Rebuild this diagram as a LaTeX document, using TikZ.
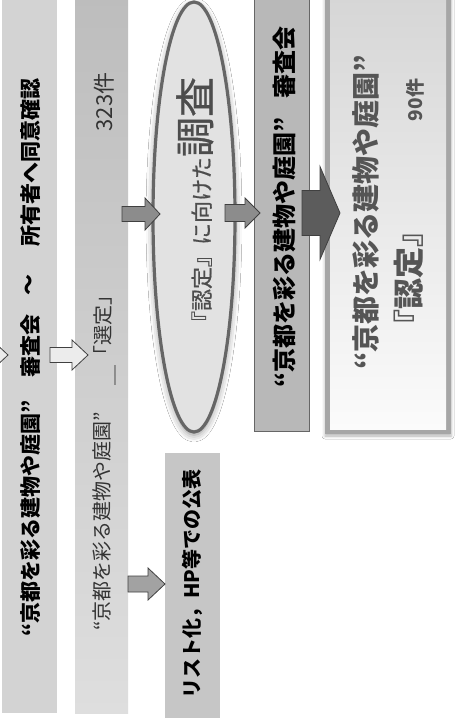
\documentclass[tikz,border=0pt]{standalone}
\usepackage{fontspec}
\setmainfont{Noto Sans CJK JP}
\newfontfamily\semifont[FakeBold=0.8]{Noto Sans CJK JP}
\usetikzlibrary{shapes.geometric,shadows.blur}
\definecolor{cA}{HTML}{D3D3D3}
\definecolor{cBt}{HTML}{BDBDBD}
\definecolor{cBb}{HTML}{DEDEDE}
\definecolor{cList}{HTML}{C6C6C6}
\definecolor{cFour}{HTML}{B8B8B8}
\definecolor{cFive}{HTML}{A6A6A6}
\definecolor{cFiveT}{HTML}{D6D6D6}
\definecolor{cFiveB}{HTML}{FBFBFB}
\definecolor{cEll}{HTML}{E2E2E2}
\definecolor{cEllB}{HTML}{666666}
\definecolor{cEllT}{HTML}{4D4D4D}
\definecolor{cArr}{HTML}{8C8C8C}
\definecolor{cArrL}{HTML}{A2A2A2}
\definecolor{cArrW}{HTML}{ECECEC}
\definecolor{cArrD}{HTML}{5C5C5C}
\definecolor{cEdge}{HTML}{404040}
\definecolor{cTwoT}{HTML}{333333}
\definecolor{cFiveText}{HTML}{555555}
\newcommand{\blkarrow}[7]{%
  \path[#1] ({#2},{#5-#6}) -- ({#3},{#5-#6}) -- ({#3},{#5-#7}) -- ({#4},{#5})
    -- ({#3},{#5+#7}) -- ({#3},{#5+#6}) -- ({#2},{#5+#6}) -- cycle;}
\begin{document}
\begin{tikzpicture}[x=1pt,y=-1pt,
  box/.style={rectangle,inner sep=0pt,outer sep=0pt,draw=none},
  rtext/.style={rotate=90,inner sep=0pt},
  t1/.style={rtext,font=\bfseries\fontsize{21}{25}\selectfont,text=black},
  t2/.style={rtext,font=\fontsize{20}{24}\selectfont,text=cTwoT},
  t4/.style={rtext,font=\bfseries\fontsize{24}{28}\selectfont,text=black},
  t5/.style={rtext,font=\bfseries\fontsize{28}{32}\selectfont,text=cFiveText},
  arrw/.style={fill=cArrW,draw=cEdge,line width=0.8pt},
  arrg/.style={fill=cArr,draw=cEdge,line width=0.8pt},
  arrl/.style={fill=cArrL,draw=cEdge,line width=0.8pt},
  arrd/.style={fill=cArrD,draw=cEdge,line width=0.8pt}]
\useasboundingbox (0,0) rectangle (461,720);
\fill[white] (0,0) rectangle (461,720);
% boxes
\node[box,fill=cA,minimum width=55pt,minimum height=718pt] (c1) at (29.5,354) {};
\node[box,top color=cBt,bottom color=cBb,minimum width=53pt,minimum height=718pt] (c2) at (101.5,354) {};
\node[box,fill=cList,minimum width=55pt,minimum height=265pt] (lb) at (192.5,585.5) {};
\node[ellipse,fill=cEll,draw=cEllB,line width=3.2pt,minimum width=82pt,minimum height=430pt,inner sep=0pt,
  blur shadow={shadow xshift=0pt,shadow yshift=-3pt,shadow blur radius=7pt,shadow opacity=45}] (el) at (194,217) {};
\node[box,fill=cFour,draw=cEdge!80,line width=1pt,minimum width=55pt,minimum height=436pt] (c4) at (281.5,213) {};
\node[box,fill=cFive,minimum width=126pt,minimum height=439pt,
  blur shadow={shadow xshift=0pt,shadow yshift=-2pt,shadow blur radius=3pt,shadow opacity=30}] (c5) at (388,214.5) {};
\node[box,top color=cFiveT,bottom color=cFiveB,minimum width=116pt,minimum height=432pt] (c5in) at (388,213) {};
% texts
\node[t1] (t1a) at (31,518) {“京都を彩る建物や庭園”};
\node[t1] (t1b) at (31,346) {審査会};
\node[t1] (t1c) at (31,285) {～};
\node[t1] (t1d) at (31,162) {所有者へ同意確認};
\node[t2] (t2a) at (102,521) {“京都を彩る建物や庭園”};
\node[t2] (t2b) at (103,335) {\raisebox{-3pt}[0pt][0pt]{＿}「選定」};
\node[t2,font=\fontsize{22}{26}\selectfont] (t2c) at (104,102) {323件};
\node[rtext,anchor=base,text=cEllT] (tel) at (210,205)
  {\semifont{\fontsize{22}{26}\selectfont『認定』に向けた}{\fontsize{40}{44}\selectfont 調査}};
\node[t4] (t4a) at (284,252) {“京都を彩る建物や庭園”};
\node[t4] (t4b) at (284,62) {審査会};
\node[t5] (t5a) at (366,212) {“京都を彩る建物や庭園”};
\node[t5,font=\bfseries\fontsize{31}{35}\selectfont] (t5b) at (409,278) {『認定』};
\node[t5,font=\bfseries\fontsize{19}{22}\selectfont] (t5c) at (415,100) {90件};
\node[t1,font=\bfseries\fontsize{20}{24}\selectfont] (tlb) at (192,584) {リスト化，HP等での公表};
% arrows
\blkarrow{arrw}{-30}{-8}{8}{355}{7.5}{15}
\blkarrow{arrw}{50}{72}{88}{355}{7.5}{15}
\blkarrow{arrg}{122}{145}{160}{214}{7.5}{16}
\blkarrow{arrl}{128}{148}{165}{584}{8}{16}
\blkarrow{arrg}{225}{245}{260}{213}{8.5}{15}
\blkarrow{arrd}{302}{320}{340}{213}{22.5}{46.5}
\end{tikzpicture}
\end{document}
